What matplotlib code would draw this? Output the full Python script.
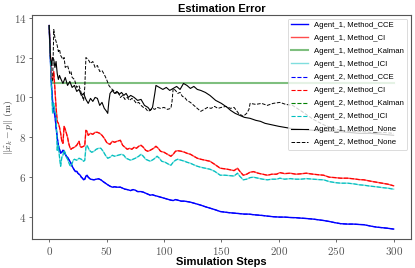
import matplotlib
matplotlib.use('Agg')
import matplotlib.pyplot as plt
from matplotlib.ticker import FuncFormatter

plt.rcParams['mathtext.fontset'] = 'cm'

# Agent_1, Method_CCE
cce_x = [0, 1, 2, 3, 4, 5, 6, 7, 8, 9, 10, 11, 12, 13, 14, 15, 16, 17, 18, 19, 20, 21, 22, 23, 24, 25, 26, 27, 28, 29, 30,
         31, 32, 33, 34, 35, 36, 38, 39, 41, 43, 45, 47, 49, 51, 53, 55, 57, 59, 62, 64, 66, 68, 71, 73, 75, 77, 80, 82,
         84, 86, 88, 90, 92, 94, 97, 100, 103, 106, 108, 110, 112, 115, 118, 120, 123, 126, 129, 132, 136, 140, 144,
         149, 153, 157, 161, 165, 170, 174, 178, 182, 186, 190, 195, 201, 205, 210, 215, 219, 224, 230, 235, 239, 244,
         249, 254, 260, 265, 270, 274, 280, 285, 290, 295, 300]
cce_y = [13.6, 12.0, 10.6, 9.8, 9.3, 9.1, 8.5, 8.0, 7.6, 7.4, 7.2, 7.25, 7.35, 7.3, 7.15, 7.05, 7.0, 6.9, 6.8, 6.7, 6.55,
         6.45, 6.35, 6.28, 6.3, 6.2, 6.15, 6.1, 6.0, 5.95, 5.87, 5.9, 6.05, 6.1, 6.0, 5.95, 5.9, 5.88, 5.87, 5.9, 5.92,
         5.87, 5.78, 5.7, 5.62, 5.55, 5.5, 5.52, 5.5, 5.5, 5.45, 5.4, 5.38, 5.33, 5.38, 5.35, 5.28, 5.28, 5.25, 5.2,
         5.15, 5.1, 5.12, 5.08, 5.05, 5.0, 4.95, 4.9, 4.85, 4.83, 4.88, 4.85, 4.8, 4.8, 4.78, 4.75, 4.7, 4.65, 4.6,
         4.52, 4.45, 4.38, 4.28, 4.25, 4.22, 4.2, 4.18, 4.15, 4.15, 4.12, 4.1, 4.08, 4.05, 4.02, 4.0, 4.0, 3.98, 3.97,
         3.95, 3.93, 3.9, 3.86, 3.83, 3.78, 3.72, 3.67, 3.65, 3.65, 3.63, 3.62, 3.55, 3.5, 3.47, 3.44, 3.4]

# Agent_1, Method_CI
ci_x = [0, 1, 2, 3, 4, 5, 6, 7, 8, 9, 10, 11, 12, 13, 14, 15, 16, 17, 18, 19, 20, 22, 24, 26, 27, 28, 30, 31, 32, 33,
        34, 36, 38, 40, 42, 44, 46, 48, 50, 51, 53, 55, 57, 59, 62, 64, 66, 68, 70, 72, 74, 76, 78, 80, 82, 84, 86,
        88, 91, 93, 95, 97, 100, 103, 106, 108, 110, 112, 115, 118, 120, 123, 126, 129, 132, 136, 140, 144, 149,
        153, 157, 161, 164, 166, 169, 172, 175, 178, 182, 186, 190, 194, 198, 201, 205, 210, 215, 219, 224, 230,
        235, 239, 244, 249, 254, 260, 265, 270, 274, 280, 285, 290, 295, 300]
ci_y = [13.6, 12.2, 10.9, 10.9, 11.3, 10.4, 9.5, 8.8, 8.7, 8.5, 8.2, 7.8, 7.7, 8.55, 8.4, 8.2, 8.0, 7.7, 7.5, 7.4,
        7.45, 7.5, 7.6, 7.8, 7.55, 7.5, 7.55, 7.6, 8.35, 8.3, 8.1, 8.2, 8.15, 8.25, 8.25, 8.2, 8.1, 7.95, 7.75, 7.7,
        7.65, 7.8, 7.75, 7.8, 7.85, 7.6, 7.5, 7.4, 7.45, 7.4, 7.5, 7.45, 7.55, 7.6, 7.5, 7.35, 7.3, 7.35, 7.45, 7.55,
        7.45, 7.3, 7.25, 7.15, 7.05, 7.15, 7.3, 7.33, 7.3, 7.25, 7.2, 7.15, 7.05, 6.95, 6.9, 6.85, 6.8, 6.65, 6.45,
        6.42, 6.38, 6.33, 6.45, 6.3, 6.1, 6.15, 6.25, 6.28, 6.2, 6.15, 6.1, 6.15, 6.15, 6.23, 6.18, 6.2, 6.15, 6.17,
        6.2, 6.15, 6.12, 6.1, 6.0, 5.98, 5.95, 5.95, 5.92, 5.88, 5.87, 5.8, 5.75, 5.7, 5.65, 5.57]

# Agent_1, Method_ICI
ici_x = [0, 1, 2, 3, 4, 5, 6, 7, 8, 9, 10, 11, 12, 13, 14, 15, 16, 17, 18, 19, 20, 21, 22, 24, 26, 28, 30, 31, 32, 33,
         35, 37, 39, 41, 43, 45, 47, 49, 51, 53, 55, 57, 60, 63, 65, 67, 69, 71, 73, 75, 78, 80, 82, 84, 86, 88, 91,
         94, 96, 98, 101, 104, 106, 108, 110, 112, 115, 118, 120, 123, 126, 129, 132, 136, 140, 144, 149, 153, 157,
         161, 164, 166, 169, 172, 175, 178, 182, 186, 190, 194, 198, 201, 205, 210, 215, 219, 224, 230, 235, 239,
         244, 249, 254, 260, 265, 270, 274, 280, 285, 290, 295, 300]
ici_y = [13.6, 12.0, 10.5, 9.2, 9.7, 9.3, 9.1, 7.35, 7.6, 7.0, 6.55, 7.0, 7.1, 7.35, 7.2, 7.0, 6.9, 6.75, 6.6, 6.55,
         6.7, 6.85, 6.9, 6.85, 6.95, 6.9, 6.8, 6.85, 7.5, 7.6, 7.35, 7.25, 7.3, 7.4, 7.45, 7.45, 7.3, 7.1, 6.95, 7.0,
         7.1, 7.05, 7.1, 7.15, 7.1, 6.95, 6.9, 6.85, 6.9, 6.95, 7.05, 7.15, 7.05, 6.9, 6.85, 6.8, 6.9, 7.05, 6.95, 6.8,
         6.75, 6.65, 6.6, 6.75, 6.85, 6.9, 6.85, 6.8, 6.75, 6.7, 6.62, 6.55, 6.5, 6.45, 6.4, 6.3, 6.1, 6.1, 6.08, 6.06,
         6.2, 6.05, 5.87, 5.9, 5.98, 6.0, 5.95, 5.9, 5.87, 5.9, 5.9, 5.95, 5.9, 5.93, 5.9, 5.9, 5.93, 5.9, 5.88, 5.87,
         5.78, 5.73, 5.7, 5.7, 5.67, 5.62, 5.6, 5.55, 5.52, 5.48, 5.45, 5.4]

# Agent_1, Method_Kalman
kal_x = [3, 300]
kal_y = [10.72, 10.72]

# Agent_1, Method_None
none1_x = [0, 1, 2, 3, 4, 5, 6, 7, 8, 9, 10, 12, 14, 16, 18, 20, 22, 24, 26, 28, 30, 32, 34, 36, 38, 40, 42, 44, 46,
           48, 50, 51, 52, 53, 55, 57, 59, 61, 63, 65, 67, 69, 71, 74, 77, 80, 83, 86, 88, 90, 92, 93, 96, 99, 102,
           105, 108, 111, 114, 117, 120, 123, 126, 129, 132, 136, 140, 145, 150, 155, 158, 162, 166, 170, 175, 180,
           184, 188, 192, 196, 200, 205, 210, 220, 230, 240, 250, 260, 270, 280, 290, 300]
none1_y = [13.6, 12.1, 11.6, 12.0, 11.9, 11.5, 11.8, 11.2, 10.9, 11.1, 10.95, 10.7, 11.0, 10.6, 10.8, 10.5, 10.6,
           10.3, 10.4, 10.1, 10.2, 9.9, 9.7, 9.95, 9.8, 10.0, 9.95, 9.6, 9.75, 9.45, 9.3, 9.2, 9.8, 10.2, 10.35, 10.2,
           10.3, 10.15, 10.25, 10.1, 10.2, 10.0, 10.1, 10.0, 9.85, 9.9, 9.6, 9.5, 9.35, 9.5, 10.2, 10.6, 10.5, 10.4,
           10.5, 10.35, 10.45, 10.55, 10.4, 10.7, 10.6, 10.45, 10.55, 10.4, 10.35, 10.25, 10.1, 9.85, 9.7, 9.5, 9.35,
           9.2, 9.1, 9.0, 8.95, 8.85, 8.8, 8.7, 8.65, 8.6, 8.55, 8.5, 8.45, 8.4, 8.35, 8.3, 8.3, 8.25, 8.2, 8.2, 8.15,
           8.1]

# Agent_2, Method_None
none2_x = [3, 4, 5, 6, 7, 8, 9, 10, 12, 13, 14, 16, 18, 19, 20, 22, 24, 26, 28, 30, 31, 32, 34, 36, 38, 40, 42, 44,
           46, 48, 50, 52, 54, 56, 58, 60, 62, 64, 66, 68, 70, 72, 74, 76, 78, 80, 82, 84, 86, 88, 90, 92, 94, 97,
           100, 103, 106, 107, 108, 110, 112, 114, 116, 118, 120, 123, 126, 129, 132, 135, 138, 141, 144, 147, 150,
           154, 158, 161, 165, 169, 172, 174, 175, 180, 185, 190, 195, 201, 206, 212, 220, 230, 240, 250, 260, 270,
           280, 290, 300]
none2_y = [10.8, 13.4, 13.0, 12.8, 12.6, 12.3, 12.4, 12.1, 11.9, 12.0, 11.5, 11.6, 11.2, 11.3, 11.0, 10.9, 10.5,
           10.6, 10.2, 9.85, 10.5, 12.0, 11.9, 11.7, 11.8, 11.5, 11.6, 11.3, 11.35, 11.15, 10.9, 10.6, 10.45, 10.35,
           10.2, 10.3, 10.0, 10.1, 9.9, 10.0, 9.85, 9.95, 9.85, 9.7, 9.75, 9.6, 9.5, 9.45, 9.3, 9.35, 9.45, 9.4, 9.5,
           9.45, 9.5, 9.4, 9.45, 9.8, 10.45, 10.35, 10.2, 10.25, 10.05, 10.0, 9.85, 9.75, 9.6, 9.45, 9.3, 9.4, 9.5,
           9.45, 9.55, 9.45, 9.5, 9.55, 9.45, 9.5, 9.2, 9.05, 9.2, 9.4, 9.7, 9.65, 9.7, 9.6, 9.7, 9.75, 9.65, 9.6, 9.3,
           8.9, 8.6, 8.4, 8.3, 8.3, 8.25, 8.25, 8.2]

fig = plt.figure(figsize=(4.15, 2.68), dpi=100)
ax = fig.add_axes([0.077, 0.108, 0.913, 0.836])

ax.plot(cce_x, cce_y, color='blue', lw=1.0, label='Agent_1, Method_CCE')
ax.plot(ci_x, ci_y, color='red', lw=1.0, alpha=0.7, label='Agent_1, Method_CI')
ax.plot(kal_x, kal_y, color='green', lw=1.5, alpha=0.5, label='Agent_1, Method_Kalman')
ax.plot(ici_x, ici_y, color='c', lw=1.0, alpha=0.5, label='Agent_1, Method_ICI')
ax.plot(cce_x, cce_y, color='blue', lw=0.8, ls='--', label='Agent_2, Method_CCE')
ax.plot(ci_x, ci_y, color='red', lw=0.8, ls='--', label='Agent_2, Method_CI')
ax.plot([], [], color='green', lw=0.8, ls='--', label='Agent_2, Method_Kalman')
ax.plot(ici_x, ici_y, color='c', lw=0.8, ls='--', label='Agent_2, Method_ICI')
ax.plot(none1_x, none1_y, color='black', lw=0.8, label='Agent_1, Method_None')
ax.plot(none2_x, none2_y, color='black', lw=0.7, ls='--', label='Agent_2, Method_None')

ax.set_xlim(-15, 315)
ax.set_ylim(2.9, 14.13)
ax.set_xticks([0, 50, 100, 150, 200, 250, 300])
ax.set_yticks([4, 6, 8, 10, 12, 14])
fmt = FuncFormatter(lambda v, p: f'${v:g}$')
ax.xaxis.set_major_formatter(fmt)
ax.yaxis.set_major_formatter(fmt)
ax.tick_params(labelsize=8, colors='#555555', length=2.5, width=0.6, pad=1.5)
for sp in ax.spines.values():
    sp.set_color('#555555')
    sp.set_linewidth(0.8)

ax.set_title('Estimation Error', fontsize=8, fontweight='bold', family='Liberation Sans', pad=2)
ax.set_xlabel('Simulation Steps', fontsize=8, fontweight='bold', family='Liberation Sans', labelpad=0)
ax.set_ylabel(r'$\|\hat{x}_k - p\|\ \mathrm{(m)}$', fontsize=7, color='#333333')
ax.yaxis.set_label_coords(-0.045, 0.5)

leg = ax.legend(loc='upper right', prop={'family': 'Liberation Sans', 'size': 5.6},
                handlelength=2.2, labelspacing=0.72, borderaxespad=0.45, framealpha=0.8, fancybox=True)
leg.get_frame().set_linewidth(0.6)

fig.savefig('out.png', dpi=100)
